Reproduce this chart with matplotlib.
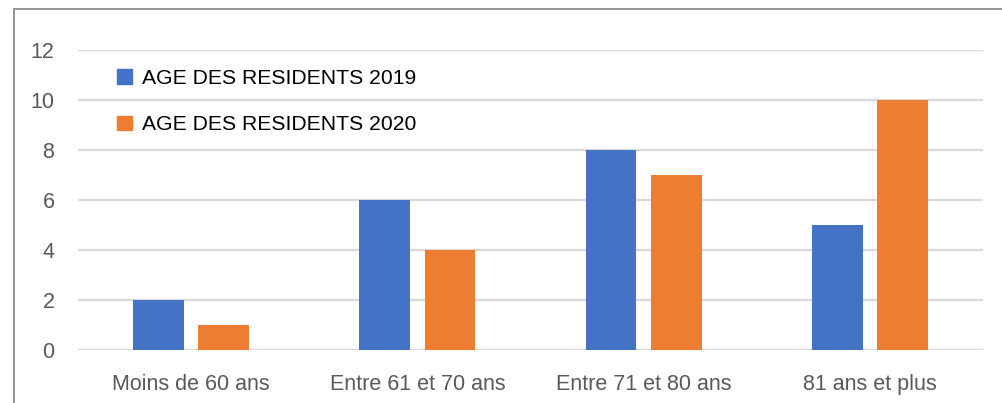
import matplotlib
matplotlib.use("Agg")
import matplotlib.pyplot as plt
import numpy as np
from matplotlib.patches import Patch, Rectangle

# data
categories = ["Moins de 60 ans", "Entre 61 et 70 ans", "Entre 71 et 80 ans", "81 ans et plus"]
residents_2019 = [2, 6, 8, 5]
residents_2020 = [1, 4, 7, 10]
series_labels = ["AGE DES RESIDENTS 2019", "AGE DES RESIDENTS 2020"]
yticks = [0, 2, 4, 6, 8, 10, 12]

BLUE = "#4472C4"
ORANGE = "#ED7D31"
GRID = "#D9D9D9"
TXT = "#595959"

plt.rcParams["font.family"] = ["Liberation Sans", "DejaVu Sans"]

fig = plt.figure(figsize=(10.02, 4.03), dpi=100)
ax = fig.add_axes([78 / 1002, 1 - 350 / 403, (983 - 78) / 1002, 300 / 403])

x = np.arange(len(categories))
w = 0.225
off = 0.144
ax.bar(x - off, residents_2019, width=w, color=BLUE, zorder=3)
ax.bar(x + off, residents_2020, width=w, color=ORANGE, zorder=3)

ax.set_xlim(-0.5, len(categories) - 0.5)
ax.set_ylim(0, 12)
ax.set_yticks(yticks)
ax.set_xticks(x)
ax.set_xticklabels(categories)
ax.yaxis.grid(True, color=GRID, linewidth=1.6, zorder=0)
ax.set_axisbelow(True)
for s in ax.spines.values():
    s.set_visible(False)
ax.tick_params(axis="both", length=0, labelsize=15.5, colors=TXT)
ax.tick_params(axis="y", pad=17)
ax.tick_params(axis="x", pad=17)

handles = [Patch(color=BLUE), Patch(color=ORANGE)]
fig.legend(handles, series_labels, loc="upper left",
           bbox_to_anchor=(117 / 1002, 1 - 69 / 403), bbox_transform=fig.transFigure,
           frameon=False, fontsize=15.2, handlelength=0.7, handleheight=0.7,
           handletextpad=0.48, labelspacing=1.3, borderpad=0, borderaxespad=0)

# outer chart frame (cut off at right and bottom)
fig.patches.append(Rectangle((14 / 1002, -0.2), 1.2, 1.2 - 9 / 403,
                             transform=fig.transFigure, fill=False,
                             edgecolor="#8C8C8C", linewidth=1.3))

fig.savefig("out.png", dpi=100)
